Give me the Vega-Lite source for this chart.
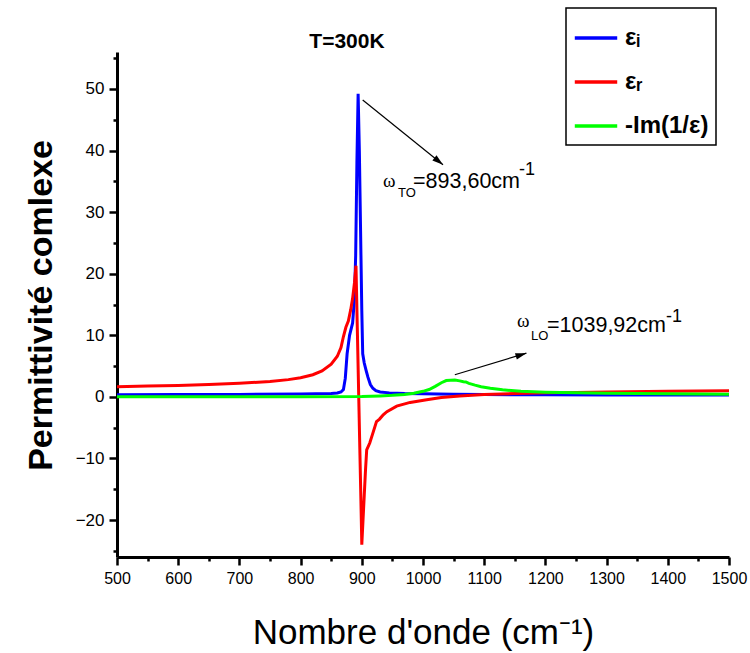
{
  "$schema": "https://vega.github.io/schema/vega-lite/v6.json",
  "width": 612,
  "height": 505,
  "autosize": {"type": "none"},
  "padding": {"left": 117, "top": 52, "right": 21, "bottom": 96},
  "background": "white",
  "config": {
    "view": {"stroke": null},
    "font": "Liberation Sans",
    "legend": {"strokeWidth": 1.5}
  },
  "datasets": {
    "curves": [
      {"x": 500, "y": 0.35, "s": "εᵢ"}, {"x": 600, "y": 0.37, "s": "εᵢ"}, {"x": 700, "y": 0.4, "s": "εᵢ"}, {"x": 800, "y": 0.45, "s": "εᵢ"}, {"x": 850, "y": 0.55, "s": "εᵢ"}, {"x": 860, "y": 0.62, "s": "εᵢ"}, {"x": 866, "y": 0.8, "s": "εᵢ"}, {"x": 870, "y": 1.2, "s": "εᵢ"}, {"x": 873, "y": 3, "s": "εᵢ"}, {"x": 876, "y": 7, "s": "εᵢ"}, {"x": 880, "y": 10, "s": "εᵢ"}, {"x": 885, "y": 12, "s": "εᵢ"}, {"x": 888, "y": 16, "s": "εᵢ"}, {"x": 890, "y": 23, "s": "εᵢ"}, {"x": 892, "y": 38, "s": "εᵢ"}, {"x": 894, "y": 49.2, "s": "εᵢ"}, {"x": 896, "y": 40, "s": "εᵢ"}, {"x": 898, "y": 27, "s": "εᵢ"}, {"x": 900, "y": 14, "s": "εᵢ"}, {"x": 901.5, "y": 7, "s": "εᵢ"}, {"x": 904, "y": 5.5, "s": "εᵢ"}, {"x": 907, "y": 4.3, "s": "εᵢ"}, {"x": 910, "y": 3.2, "s": "εᵢ"}, {"x": 914, "y": 2.0, "s": "εᵢ"}, {"x": 918, "y": 1.4, "s": "εᵢ"}, {"x": 923, "y": 1.0, "s": "εᵢ"}, {"x": 930, "y": 0.8, "s": "εᵢ"}, {"x": 945, "y": 0.65, "s": "εᵢ"}, {"x": 970, "y": 0.55, "s": "εᵢ"}, {"x": 1000, "y": 0.5, "s": "εᵢ"}, {"x": 1050, "y": 0.42, "s": "εᵢ"}, {"x": 1100, "y": 0.38, "s": "εᵢ"}, {"x": 1200, "y": 0.34, "s": "εᵢ"}, {"x": 1300, "y": 0.32, "s": "εᵢ"}, {"x": 1400, "y": 0.31, "s": "εᵢ"}, {"x": 1500, "y": 0.3, "s": "εᵢ"},
      {"x": 500, "y": 1.65, "s": "εᵣ"}, {"x": 550, "y": 1.75, "s": "εᵣ"}, {"x": 600, "y": 1.85, "s": "εᵣ"}, {"x": 650, "y": 2.0, "s": "εᵣ"}, {"x": 700, "y": 2.2, "s": "εᵣ"}, {"x": 750, "y": 2.5, "s": "εᵣ"}, {"x": 780, "y": 2.8, "s": "εᵣ"}, {"x": 800, "y": 3.1, "s": "εᵣ"}, {"x": 820, "y": 3.6, "s": "εᵣ"}, {"x": 835, "y": 4.2, "s": "εᵣ"}, {"x": 850, "y": 5.3, "s": "εᵣ"}, {"x": 860, "y": 6.6, "s": "εᵣ"}, {"x": 866, "y": 8.0, "s": "εᵣ"}, {"x": 870, "y": 9.8, "s": "εᵣ"}, {"x": 874, "y": 11.3, "s": "εᵣ"}, {"x": 878, "y": 12.3, "s": "εᵣ"}, {"x": 882, "y": 14.2, "s": "εᵣ"}, {"x": 885, "y": 16.0, "s": "εᵣ"}, {"x": 888, "y": 18.5, "s": "εᵣ"}, {"x": 890.5, "y": 21.3, "s": "εᵣ"}, {"x": 893, "y": 9.5, "s": "εᵣ"}, {"x": 895, "y": 0, "s": "εᵣ"}, {"x": 897, "y": -9.5, "s": "εᵣ"}, {"x": 899, "y": -19, "s": "εᵣ"}, {"x": 900, "y": -24, "s": "εᵣ"}, {"x": 902, "y": -20, "s": "εᵣ"}, {"x": 904, "y": -16, "s": "εᵣ"}, {"x": 906, "y": -12, "s": "εᵣ"}, {"x": 908, "y": -8.6, "s": "εᵣ"}, {"x": 913, "y": -7.5, "s": "εᵣ"}, {"x": 919, "y": -5.6, "s": "εᵣ"}, {"x": 924, "y": -4.0, "s": "εᵣ"}, {"x": 929, "y": -3.6, "s": "εᵣ"}, {"x": 935, "y": -2.9, "s": "εᵣ"}, {"x": 941, "y": -2.4, "s": "εᵣ"}, {"x": 957, "y": -1.5, "s": "εᵣ"}, {"x": 979, "y": -0.9, "s": "εᵣ"}, {"x": 1006, "y": -0.45, "s": "εᵣ"}, {"x": 1030, "y": -0.1, "s": "εᵣ"}, {"x": 1060, "y": 0.15, "s": "εᵣ"}, {"x": 1100, "y": 0.4, "s": "εᵣ"}, {"x": 1150, "y": 0.55, "s": "εᵣ"}, {"x": 1200, "y": 0.65, "s": "εᵣ"}, {"x": 1300, "y": 0.8, "s": "εᵣ"}, {"x": 1400, "y": 0.92, "s": "εᵣ"}, {"x": 1500, "y": 1.0, "s": "εᵣ"},
      {"x": 500, "y": 0.02, "s": "-Im(1/ε)"}, {"x": 700, "y": 0.03, "s": "-Im(1/ε)"}, {"x": 800, "y": 0.04, "s": "-Im(1/ε)"}, {"x": 900, "y": 0.06, "s": "-Im(1/ε)"}, {"x": 930, "y": 0.15, "s": "-Im(1/ε)"}, {"x": 950, "y": 0.25, "s": "-Im(1/ε)"}, {"x": 970, "y": 0.4, "s": "-Im(1/ε)"}, {"x": 985, "y": 0.6, "s": "-Im(1/ε)"}, {"x": 1000, "y": 0.9, "s": "-Im(1/ε)"}, {"x": 1010, "y": 1.2, "s": "-Im(1/ε)"}, {"x": 1020, "y": 1.7, "s": "-Im(1/ε)"}, {"x": 1030, "y": 2.3, "s": "-Im(1/ε)"}, {"x": 1038, "y": 2.65, "s": "-Im(1/ε)"}, {"x": 1045, "y": 2.7, "s": "-Im(1/ε)"}, {"x": 1052, "y": 2.75, "s": "-Im(1/ε)"}, {"x": 1060, "y": 2.6, "s": "-Im(1/ε)"}, {"x": 1066, "y": 2.45, "s": "-Im(1/ε)"}, {"x": 1070, "y": 2.42, "s": "-Im(1/ε)"}, {"x": 1075, "y": 2.2, "s": "-Im(1/ε)"}, {"x": 1085, "y": 1.9, "s": "-Im(1/ε)"}, {"x": 1095, "y": 1.65, "s": "-Im(1/ε)"}, {"x": 1110, "y": 1.4, "s": "-Im(1/ε)"}, {"x": 1130, "y": 1.15, "s": "-Im(1/ε)"}, {"x": 1160, "y": 0.9, "s": "-Im(1/ε)"}, {"x": 1200, "y": 0.75, "s": "-Im(1/ε)"}, {"x": 1250, "y": 0.66, "s": "-Im(1/ε)"}, {"x": 1300, "y": 0.6, "s": "-Im(1/ε)"}, {"x": 1400, "y": 0.5, "s": "-Im(1/ε)"}, {"x": 1500, "y": 0.43, "s": "-Im(1/ε)"}
    ],
    "arrows": [
      {"x": 901.5, "y": 48.2, "x2": 1032.7, "y2": 37.7},
      {"x": 1052, "y": 3.6, "x2": 1169, "y2": 7.1}
    ]
  },
  "encoding": {
    "x": {
      "field": "x", "type": "quantitative",
      "scale": {"domain": [500, 1500], "nice": false, "zero": false},
      "axis": {
        "title": "Nombre d'onde (cm⁻¹)",
        "values": [500, 550, 600, 650, 700, 750, 800, 850, 900, 950, 1000, 1050, 1100, 1150, 1200, 1250, 1300, 1350, 1400, 1450, 1500],
        "format": "d",
        "labelExpr": "datum.value % 100 === 0 ? datum.label : ''",
        "tickSize": {"condition": {"test": "datum.value % 100 === 0", "value": 8}, "value": 4},
        "tickWidth": 2.5, "tickColor": "black",
        "domainColor": "black", "domainWidth": 3,
        "grid": false, "labelFlush": false, "labelOverlap": false,
        "labelFont": "Liberation Sans", "labelFontSize": 16, "labelColor": "black", "labelPadding": 5,
        "titleFont": "Liberation Sans", "titleFontSize": 35, "titleFontWeight": "normal", "titleColor": "black",
        "titleBaseline": "alphabetic", "titleY": 86
      }
    },
    "y": {
      "field": "y", "type": "quantitative",
      "scale": {"domain": [-26, 56], "nice": false, "zero": false},
      "axis": {
        "title": "Permittivité comlexe",
        "values": [-25, -20, -15, -10, -5, 0, 5, 10, 15, 20, 25, 30, 35, 40, 45, 50, 55],
        "labelExpr": "datum.value % 10 === 0 ? datum.label : ''",
        "tickSize": {"condition": {"test": "datum.value % 10 === 0", "value": 8}, "value": 4},
        "tickWidth": 2.5, "tickColor": "black",
        "domainColor": "black", "domainWidth": 3,
        "grid": false, "labelFlush": false, "labelOverlap": false,
        "labelFont": "Liberation Sans", "labelFontSize": 17, "labelColor": "black", "labelPadding": 5,
        "titleFont": "Liberation Sans", "titleFontSize": 34, "titleFontWeight": "bold", "titleColor": "black",
        "titleAngle": -90, "titleBaseline": "alphabetic", "titleAlign": "center", "titleX": -66, "titleY": 253
      }
    }
  },
  "layer": [
    {
      "data": {"name": "curves"},
      "mark": {"type": "line", "strokeWidth": 3, "interpolate": "linear"},
      "encoding": {
        "color": {
          "field": "s", "type": "nominal",
          "scale": {"domain": ["εᵢ", "εᵣ", "-Im(1/ε)"], "range": ["#0000FF", "#FF0000", "#00FF00"]},
          "legend": {
            "orient": "none", "legendX": 449, "legendY": -44, "title": null,
            "symbolType": "stroke", "symbolSize": 1800, "symbolStrokeWidth": 3.5,
            "labelFont": "Liberation Sans", "labelFontSize": 24, "labelFontWeight": "bold", "labelColor": "black",
            "labelExpr": "datum.label + '\u2003'",
            "labelOffset": 6, "rowPadding": 9, "padding": 7,
            "strokeColor": "black", "fillColor": "white"
          }
        }
      }
    },
    {
      "data": {"name": "arrows"},
      "mark": {"type": "rule", "color": "black", "strokeWidth": 1.2},
      "encoding": {
        "x2": {"field": "x2"},
        "y2": {"field": "y2"}
      }
    },
    {
      "data": {"values": [{"x": 1032.7, "y": 37.7}]},
      "mark": {"type": "point", "shape": "M0,0L-0.6,2L0.6,2Z", "size": 121, "angle": 128.8, "filled": true, "color": "black", "opacity": 1}
    },
    {
      "data": {"values": [{"x": 1169, "y": 7.1}]},
      "mark": {"type": "point", "shape": "M0,0L-0.6,2L0.6,2Z", "size": 121, "angle": 73.2, "filled": true, "color": "black", "opacity": 1}
    },
    {
      "data": {"values": [{"x": 875.8, "y": 56.7, "t": "T=300K"}]},
      "mark": {"type": "text", "align": "center", "baseline": "alphabetic", "font": "Liberation Sans", "fontSize": 21, "fontWeight": "bold", "color": "black"},
      "encoding": {"text": {"field": "t"}}
    },
    {
      "data": {"values": [{"x": 934.6, "y": 34.1, "t": "ω"}, {"x": 1153.6, "y": 11.4, "t": "ω"}]},
      "mark": {"type": "text", "align": "left", "baseline": "alphabetic", "font": "Liberation Serif", "fontSize": 19, "color": "black"},
      "encoding": {"text": {"field": "t"}}
    },
    {
      "data": {"values": [{"x": 959.2, "y": 32.5, "t": "TO"}, {"x": 1176.5, "y": 9.25, "t": "LO"}]},
      "mark": {"type": "text", "align": "left", "baseline": "alphabetic", "font": "Liberation Sans", "fontSize": 13, "color": "black"},
      "encoding": {"text": {"field": "t"}}
    },
    {
      "data": {"values": [{"x": 983.7, "y": 33.9, "t": "=893,60cm"}, {"x": 1202.6, "y": 10.55, "t": "=1039,92cm"}]},
      "mark": {"type": "text", "align": "left", "baseline": "alphabetic", "font": "Liberation Sans", "fontSize": 21.5, "color": "black"},
      "encoding": {"text": {"field": "t"}}
    },
    {
      "data": {"values": [{"x": 1157, "y": 36.0, "t": "-1"}, {"x": 1397, "y": 12.2, "t": "-1"}]},
      "mark": {"type": "text", "align": "left", "baseline": "alphabetic", "font": "Liberation Sans", "fontSize": 18, "color": "black"},
      "encoding": {"text": {"field": "t"}}
    }
  ]
}
